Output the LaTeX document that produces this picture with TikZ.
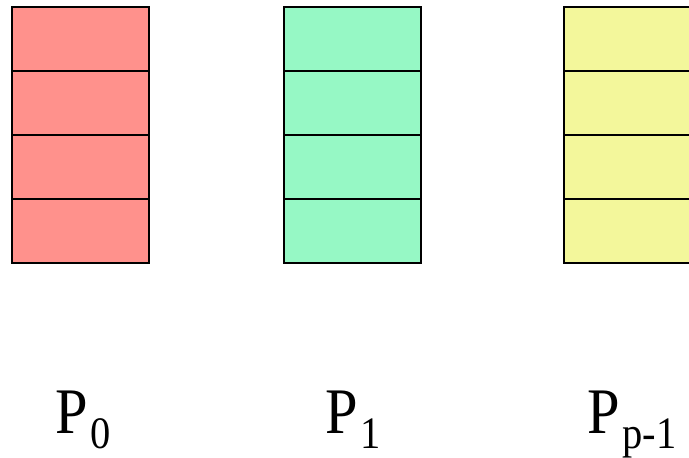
\documentclass[tikz,border=0pt]{standalone}
\usepackage{fontspec}
\setmainfont{Liberation Serif}
\usetikzlibrary{positioning}
\definecolor{cellred}{RGB}{255,145,140}
\definecolor{cellgreen}{RGB}{150,248,197}
\definecolor{cellyellow}{RGB}{243,247,155}
\newcommand{\proclabel}[1]{P\kern3pt\raisebox{-15pt}{\fontsize{45}{45}\selectfont #1}}

\begin{document}
\begin{tikzpicture}[
  x=1pt, y=-1pt,
  cell/.style={draw, line width=1.3pt, minimum width=137pt, minimum height=64pt, inner sep=0pt, outer sep=0pt},
  proc/.style={anchor=base, inner sep=0pt, xscale=0.9, font=\fontsize{65}{65}\selectfont}
]
\useasboundingbox (0,0) rectangle (689,458);

% erste Spalte: P_0
\node[cell, fill=cellred] (p0a) at (80.5,39) {};
\node[cell, fill=cellred, below=0pt of p0a] (p0b) {};
\node[cell, fill=cellred, below=0pt of p0b] (p0c) {};
\node[cell, fill=cellred, below=0pt of p0c] (p0d) {};

% zweite Spalte: P_1
\node[cell, fill=cellgreen] (p1a) at (352.5,39) {};
\node[cell, fill=cellgreen, below=0pt of p1a] (p1b) {};
\node[cell, fill=cellgreen, below=0pt of p1b] (p1c) {};
\node[cell, fill=cellgreen, below=0pt of p1c] (p1d) {};

% letzte Spalte: P_{p-1} (rechts abgeschnitten)
\node[cell, fill=cellyellow] (pna) at (632.5,39) {};
\node[cell, fill=cellyellow, below=0pt of pna] (pnb) {};
\node[cell, fill=cellyellow, below=0pt of pnb] (pnc) {};
\node[cell, fill=cellyellow, below=0pt of pnc] (pnd) {};

% Beschriftungen
\node[proc] (lab0) at (83,433) {\proclabel{0}};
\node[proc] (lab1) at (353,433) {\proclabel{1}};
\node[proc] (labn) at (632,433) {\proclabel{p-1}};

\end{tikzpicture}
\end{document}
